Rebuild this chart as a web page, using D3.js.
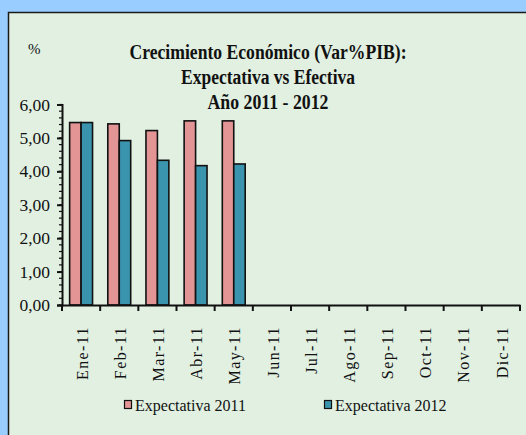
<!DOCTYPE html>
<html>
<head>
<meta charset="utf-8">
<script src="https://cdn.jsdelivr.net/npm/d3@7"></script>
<style>
  html, body { margin: 0; padding: 0; background: #99CCFF; }
  svg { display: block; }
  text { font-family: "Liberation Serif", "Times New Roman", serif; fill: #111; }
</style>
</head>
<body>
<svg id="chart" width="526" height="435"></svg>
<script>
const categories = ["Ene-11","Feb-11","Mar-11","Abr-11","May-11","Jun-11","Jul-11","Ago-11","Sep-11","Oct-11","Nov-11","Dic-11"];
const seriesNames = ["Expectativa 2011","Expectativa 2012"];
const expectativa2011 = [5.46, 5.42, 5.22, 5.51, 5.51];
const expectativa2012 = [5.46, 4.92, 4.33, 4.17, 4.22];
const yTicks = [0, 1, 2, 3, 4, 5, 6];
const titleLines = ["Crecimiento Económico (Var%PIB):", "Expectativa vs Efectiva", "Año 2011 - 2012"];
const colors = ["#E39494", "#3B94AD"];

const svg = d3.select("#chart");

// panel
svg.append("rect").attr("x", 8.5).attr("y", 12.5).attr("width", 540).attr("height", 440)
  .attr("fill", "#E1F0E1").attr("stroke", "#1a1a1a").attr("stroke-width", 1.5);

const pLeft = 62, pRight = 520, pTop = 104.5, pBottom = 305;
const x0 = d3.scaleBand().domain(categories).range([pLeft, pRight]).padding(0);
const x1 = d3.scaleBand().domain(seriesNames).range([x0.bandwidth() * 0.2, x0.bandwidth() * 0.8]);
const y = d3.scaleLinear().domain([0, 6]).range([pBottom, pTop]);

// title
const titleW = [277, 174, 121];
const titleY = [59, 84, 109];
titleLines.forEach((t, i) => {
  svg.append("text").attr("x", 268).attr("y", titleY[i]).attr("text-anchor", "middle")
    .attr("font-size", 20).attr("font-weight", "bold")
    .attr("textLength", titleW[i]).attr("lengthAdjust", "spacingAndGlyphs")
    .text(t);
});
svg.append("text").attr("x", 28).attr("y", 54).attr("font-size", 15).text("%");

// bars
const data = categories.map((c, i) => ({
  cat: c,
  vals: [expectativa2011[i], expectativa2012[i]]
}));
const groups = svg.append("g").selectAll("g").data(data).join("g")
  .attr("transform", d => `translate(${x0(d.cat)},0)`);
groups.selectAll("rect")
  .data(d => d.vals.map((v, j) => ({ s: seriesNames[j], v, j })).filter(e => e.v != null))
  .join("rect")
  .attr("x", e => x1(e.s))
  .attr("width", x1.bandwidth())
  .attr("y", e => y(e.v))
  .attr("height", e => y(0) - y(e.v))
  .attr("fill", e => colors[e.j])
  .attr("stroke", "#111").attr("stroke-width", 1.6);

// y axis minor ticks
const minor = d3.range(0, 6.0001, 0.2);
svg.append("g").selectAll("line").data(minor).join("line")
  .attr("x1", pLeft - 3).attr("x2", pLeft)
  .attr("y1", d => y(d)).attr("y2", d => y(d))
  .attr("stroke", "#111").attr("stroke-width", 1.2);

const yAxis = svg.append("g").attr("transform", `translate(${pLeft},0)`)
  .call(d3.axisLeft(y).tickValues(yTicks).tickSize(5).tickPadding(7)
    .tickFormat(d => d3.format(".2f")(d).replace(".", ",")));
yAxis.select(".domain").attr("stroke", "#111").attr("stroke-width", 2);
yAxis.selectAll(".tick line").attr("stroke", "#111").attr("stroke-width", 2);
yAxis.selectAll("text").attr("font-size", 17.5).attr("font-family", "Liberation Serif, serif").attr("fill", "#111");

// x axis
const xAxis = svg.append("g").attr("transform", `translate(0,${pBottom})`)
  .call(d3.axisBottom(x0).tickSize(0).tickFormat(""));
xAxis.select(".domain").attr("stroke", "#111").attr("stroke-width", 2);
const bounds = categories.map(c => x0(c)).concat([pRight]);
svg.append("g").selectAll("line").data(bounds).join("line")
  .attr("x1", d => d).attr("x2", d => d).attr("y1", pBottom).attr("y2", pBottom + 6)
  .attr("stroke", "#111").attr("stroke-width", 2);
svg.append("g").selectAll("text").data(categories).join("text")
  .attr("transform", d => `translate(${x0(d) + x0.bandwidth() / 2 + 1},${pBottom + 21}) rotate(-90)`)
  .attr("text-anchor", "end").attr("dy", "0.35em")
  .attr("font-size", 16).attr("letter-spacing", "1.4px")
  .text(d => d);

// legend
const legX = [124, 324];
seriesNames.forEach((s, i) => {
  svg.append("rect").attr("x", legX[i] + 0.5).attr("y", 400.5).attr("width", 7).attr("height", 8)
    .attr("fill", colors[i]).attr("stroke", "#111").attr("stroke-width", 1.2);
  svg.append("text").attr("x", legX[i] + 11).attr("y", 411).attr("font-size", 16).text(s);
});
</script>
</body>
</html>
